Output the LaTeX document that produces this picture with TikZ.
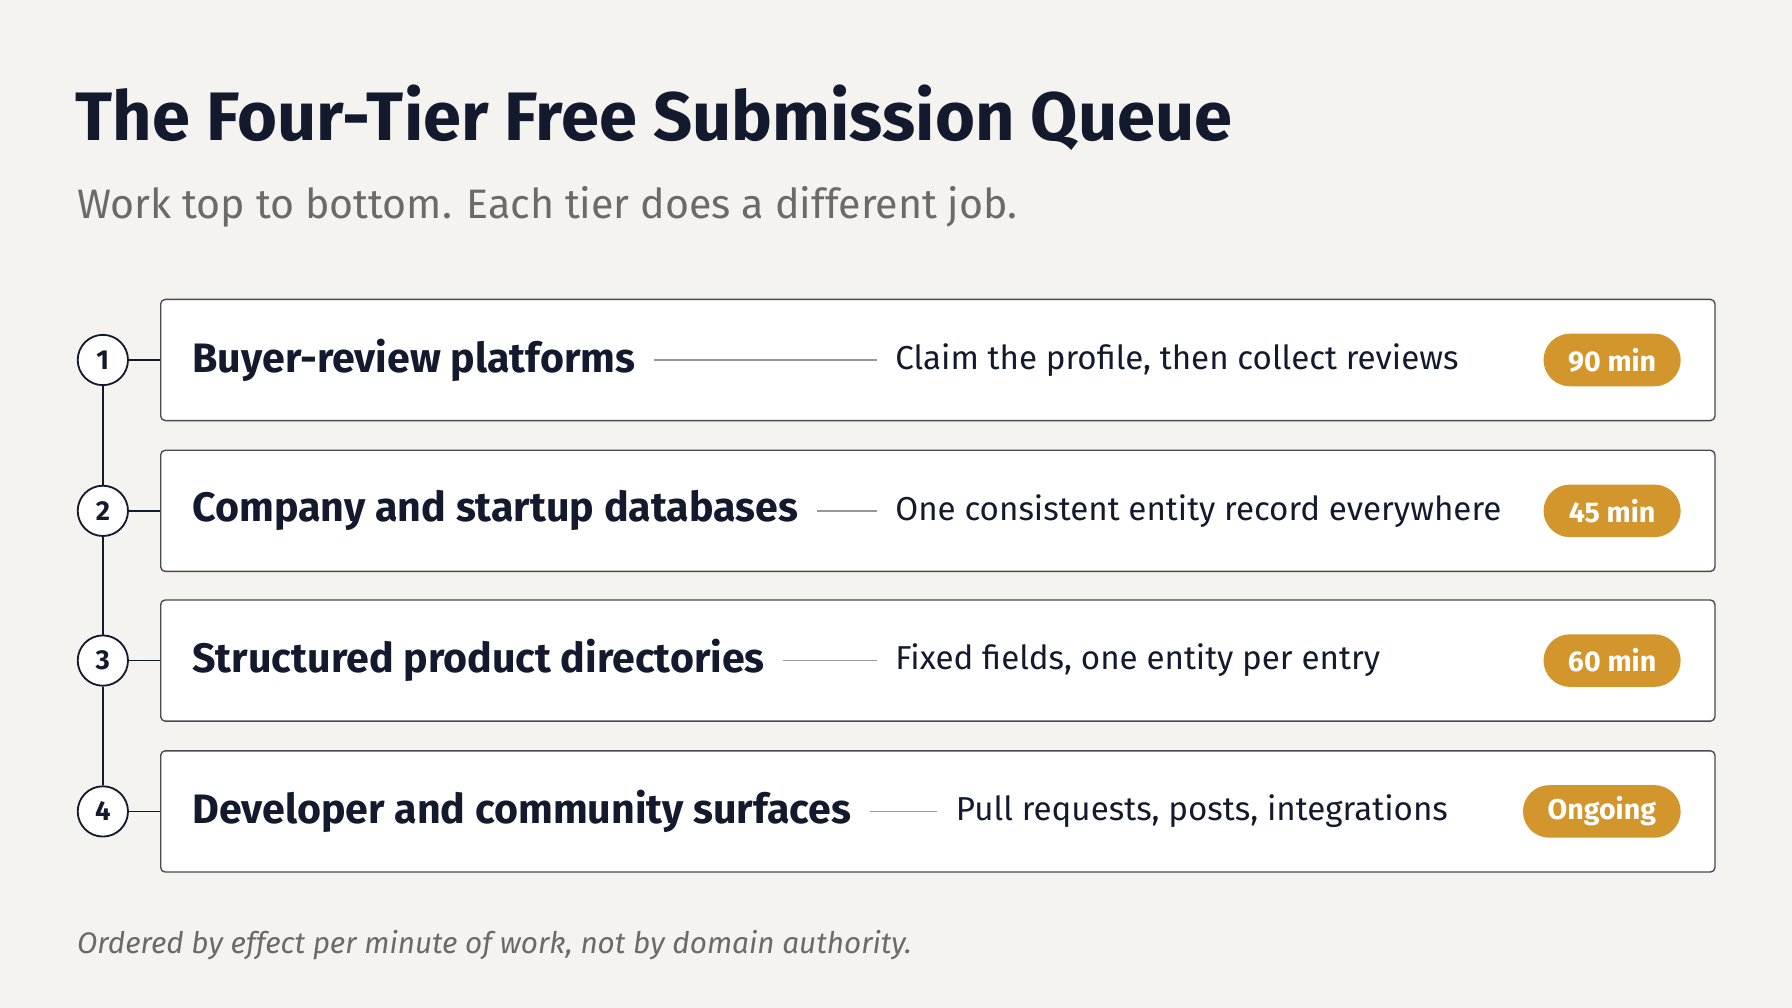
\documentclass[tikz,border=0pt]{standalone}
\usepackage{fontspec}
\setmainfont{Fira Sans}
\definecolor{bg}{HTML}{F4F3EF}
\definecolor{ink}{HTML}{141A2E}
\definecolor{pill}{HTML}{D3962C}
\definecolor{grey}{HTML}{6A6A66}
\definecolor{edge}{HTML}{4A4A4A}
\begin{document}
\begin{tikzpicture}[x=0.5pt,y=-0.5pt,
  row/.style={draw=edge,line width=0.6pt,fill=white,rounded corners=2pt,minimum width=680pt,minimum height=53pt,anchor=west,inner sep=0pt},
  num/.style={circle,draw=ink,line width=0.8pt,fill=white,minimum size=22pt,inner sep=0pt,font=\fontsize{12}{12}\selectfont\bfseries,text=ink},
  lab/.style={anchor=west,inner sep=0pt,font=\fontsize{18}{22}\selectfont\bfseries,text=ink},
  desc/.style={anchor=west,inner sep=0pt,font=\fontsize{14.5}{18}\selectfont,text=ink},
  tag/.style={fill=pill,rounded corners=11.5pt,minimum height=23pt,inner sep=0pt,anchor=east,text=white,font=\fontsize{12.5}{13}\selectfont\bfseries},
  leader/.style={draw=grey!70,line width=0.6pt,shorten <=8pt,shorten >=8pt},
  stem/.style={draw=ink,line width=0.7pt}]
\fill[bg] (0,0) rectangle (1568,882);
\useasboundingbox (0,0) rectangle (1568,882);
\node[anchor=base west,inner sep=0pt,font=\fontsize{30}{36}\selectfont\bfseries,text=ink] (title) at (66,123) {The Four-Tier Free Submission Queue};
\node[anchor=base west,inner sep=0pt,font=\fontsize{18}{22}\selectfont,text=grey] (sub) at (67,191) {Work top to bottom. Each tier does a different job.};
\foreach \i/\y/\L/\D/\dx/\T/\w in {
 1/315/Buyer-review platforms/{Claim the profile, then collect reviews}/783/90 min/60,
 2/447/Company and startup databases/{One consistent entity record everywhere}/783/45 min/60,
 3/578/Structured product directories/{Fixed fields, one entity per entry}/783/60 min/60,
 4/710/Developer and community surfaces/{Pull requests, posts, integrations}/836/Ongoing/69}{
  \node[row] (box\i) at (140,\y) {};
  \node[lab] (lab\i) at (168,\y) {\L};
  \node[desc] (desc\i) at (\dx,\y) {\D};
  \draw[leader] (lab\i.east) -- (desc\i.west);
  \node[tag,minimum width=\w pt] (tag\i) at (1471,\y) {\T};
  \node[num] (n\i) at (90,\y) {\i};
  \draw[stem] (n\i.east) -- (box\i.west);
}
\draw[stem] (n1) -- (n2); \draw[stem] (n2) -- (n3); \draw[stem] (n3) -- (n4);
\node[anchor=base west,inner sep=0pt,font=\fontsize{13}{16}\selectfont\itshape,text=grey] (foot) at (67,834) {Ordered by effect per minute of work, not by domain authority.};
\end{tikzpicture}
\end{document}
